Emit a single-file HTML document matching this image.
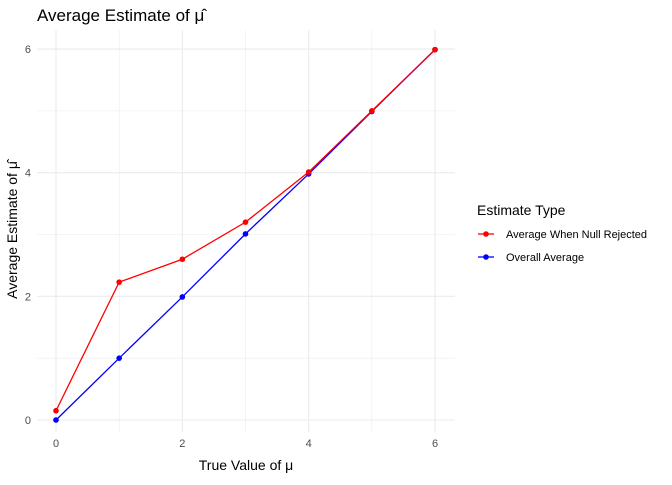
<!DOCTYPE html>
<html><head><meta charset="utf-8"><style>
body{margin:0;background:#fff;font-family:"Liberation Sans",sans-serif}
</style></head><body>
<svg id="c" width="672" height="480" xmlns="http://www.w3.org/2000/svg" font-family="Liberation Sans, sans-serif">
<text x="37" y="21" font-size="17" fill="#000">Average Estimate of μ̂</text>
<g id="grid"></g><g id="axes"></g><g id="marks"></g>
<text x="246" y="470" font-size="14" text-anchor="middle">True Value of μ</text>
<text transform="translate(17,230) rotate(-90)" font-size="14" text-anchor="middle">Average Estimate of μ̂</text>
<text x="477" y="215" font-size="14">Estimate Type</text>
<g>
<line x1="478" y1="234" x2="494" y2="234" stroke="#f00" stroke-width="1.3"/><circle cx="486" cy="234" r="2.8" fill="#f00"/>
<text x="506" y="238" font-size="11">Average When Null Rejected</text></g>
<g>
<line x1="478" y1="257" x2="494" y2="257" stroke="#00f" stroke-width="1.3"/><circle cx="486" cy="257" r="2.8" fill="#00f"/>
<text x="506" y="261" font-size="11">Overall Average</text></g>
</svg>
<script>
const xs=[0,1,2,3,4,5,6];
const rejected=[0.15,2.23,2.6,3.2,4.01,5.0,5.99];
const overall=[0.0,1.0,1.99,3.01,3.98,4.99,5.99];
const xTicks=[0,2,4,6];
const yTicks=[0,2,4,6];
const X=v=>56+v*63.17, Y=v=>420-v*61.83;
const ns="http://www.w3.org/2000/svg";
function mk(t,a,p){const e=document.createElementNS(ns,t);for(const k in a)e.setAttribute(k,a[k]);p.appendChild(e);return e;}
const g=document.getElementById('grid'),ax=document.getElementById('axes'),m=document.getElementById('marks');
for(let v=0;v<=6;v+=1){
 const maj=v%2===0;
 const l1=mk('line',{x1:X(v),x2:X(v),y1:30,y2:432,stroke:'#ebebeb','stroke-width':maj?1.1:0.55},g);
 
 
 const l2=mk('line',{x1:37,x2:455,y1:Y(v),y2:Y(v),stroke:'#ebebeb','stroke-width':maj?1.1:0.55},g);
 
 
}
xTicks.forEach(v=>{const t=mk('text',{x:X(v),y:447,'font-size':11,fill:'#4d4d4d','text-anchor':'middle'},ax);t.textContent=v;
 
 });
yTicks.forEach(v=>{const t=mk('text',{x:31,y:Y(v)+4,'font-size':11,fill:'#4d4d4d','text-anchor':'end'},ax);t.textContent=v;
 
 });
function series(vals,col,name){
 const p=mk('polyline',{points:xs.map((x,i)=>X(x)+','+Y(vals[i])).join(' '),fill:'none',stroke:col,'stroke-width':1.3},m);
 
 
 xs.forEach((x,i)=>{const c=mk('circle',{cx:X(x),cy:Y(vals[i]),r:2.8,fill:col},m);
  
  });
}
series(overall,'#00f','overall');
series(rejected,'#f00','rejected');
</script>
</body></html>
